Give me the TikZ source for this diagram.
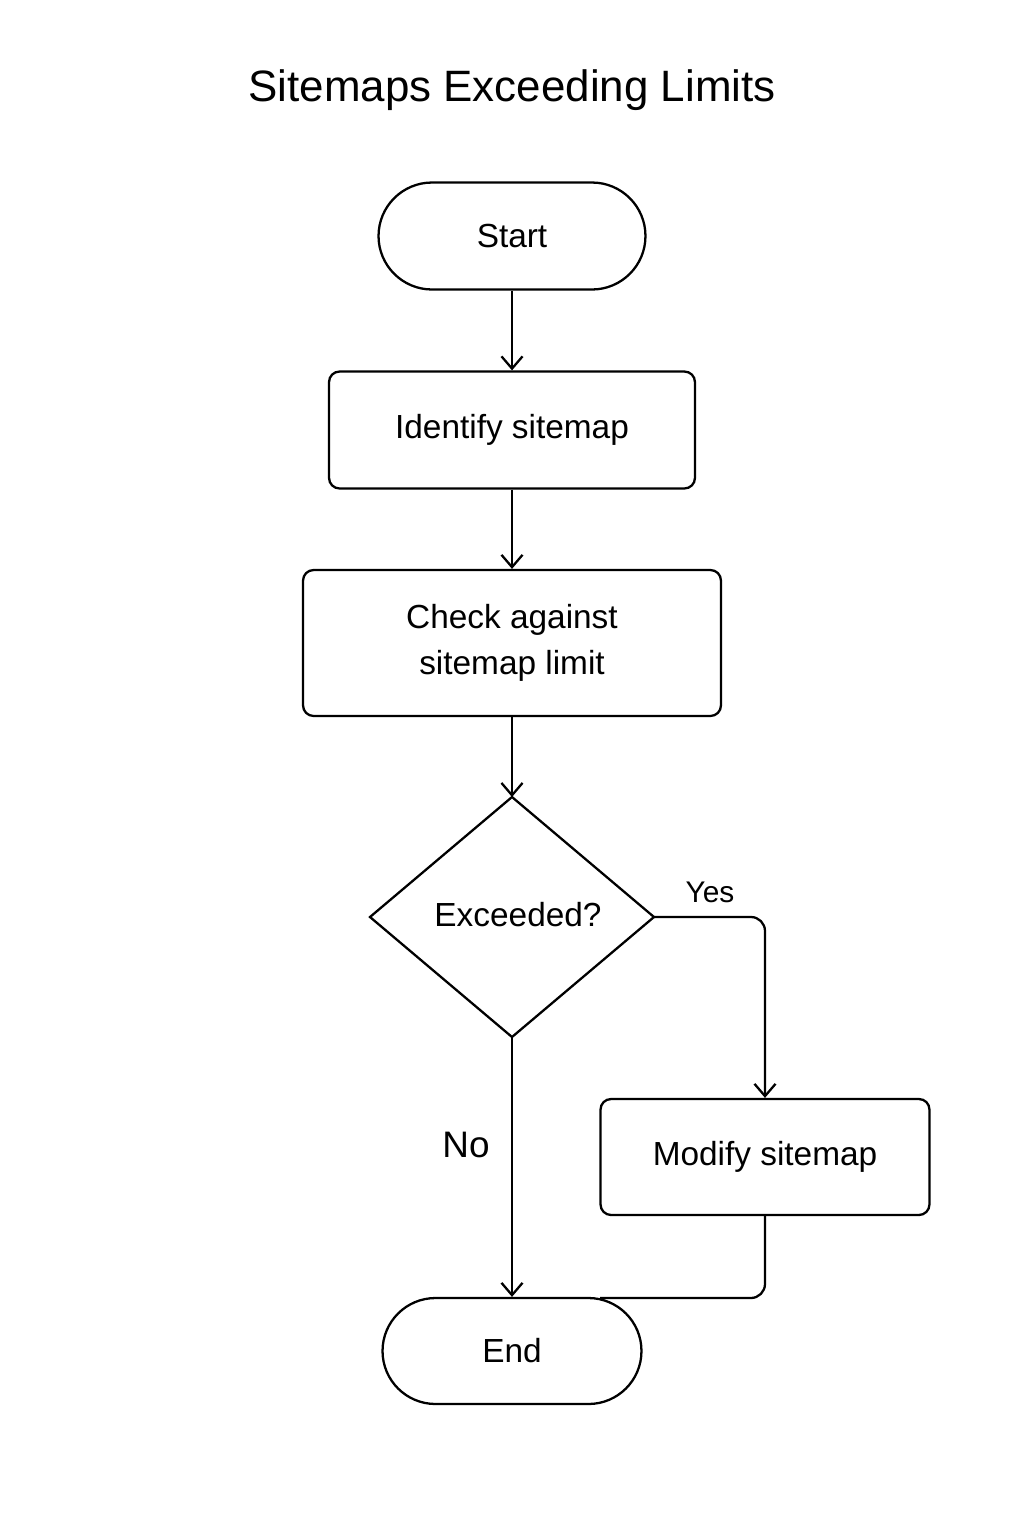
\documentclass[tikz,border=0pt]{standalone}
\usepackage{fontspec}
\setmainfont{Liberation Sans}
\usetikzlibrary{arrows.meta,shapes.geometric}
\begin{document}
\begin{tikzpicture}[x=0.02cm,y=-0.02cm,
  box/.style={draw,line width=1.3pt,rounded corners=6pt,align=center,font=\fontsize{19}{24}\selectfont,inner sep=0pt},
  term/.style={draw,line width=1.3pt,rounded corners=30pt,font=\fontsize{19}{24}\selectfont,inner sep=0pt},
  arr/.style={line width=1.3pt,-{Straight Barb[length=7pt,width=12pt]}},
  ln/.style={line width=1.3pt,rounded corners=8pt}]
\useasboundingbox (0,0) rectangle (1024,1536);
\node (title) at (512,90) {\fontsize{25}{30}\selectfont Sitemaps Exceeding Limits};
\node[term,minimum width=5.34cm,minimum height=2.14cm,rounded corners=1.07cm] (start) at (512,236) {Start};
\node[box,minimum width=7.32cm,minimum height=2.34cm] (ident) at (512,430) {Identify sitemap};
\node[box,minimum width=8.36cm,minimum height=2.92cm] (check) at (512,643) {Check against\\[2pt]sitemap limit};
\draw[line width=1.3pt] (370,917) -- (512,797) -- (654,917) -- (512,1037) -- cycle;
\coordinate (dl) at (370,917); \coordinate (dt) at (512,797);
\coordinate (dr) at (654,917); \coordinate (db) at (512,1037);
\node[font=\fontsize{19}{24}\selectfont] (exc) at (518,915) {Exceeded?};
\node[box,minimum width=6.58cm,minimum height=2.32cm] (mod) at (765,1157) {Modify sitemap};
\node[term,minimum width=5.18cm,minimum height=2.12cm,rounded corners=1.06cm] (end) at (512,1351) {End};
\node[font=\fontsize{17}{20}\selectfont] (yes) at (710,892) {Yes};
\node[font=\fontsize{21}{24}\selectfont] (no) at (466,1145) {No};
\draw[arr] (start) -- (ident);
\draw[arr] (ident) -- (check);
\draw[arr] (check.south) -- (dt);
\draw[arr,rounded corners=8pt] (dr) -- (765,917) -- (mod.north);
\draw[arr] (db) -- (end.north);
\coordinate (join) at (600,1298);
\draw[ln] (mod.south) -- (765,1298) -- (join);
\end{tikzpicture}
\end{document}
